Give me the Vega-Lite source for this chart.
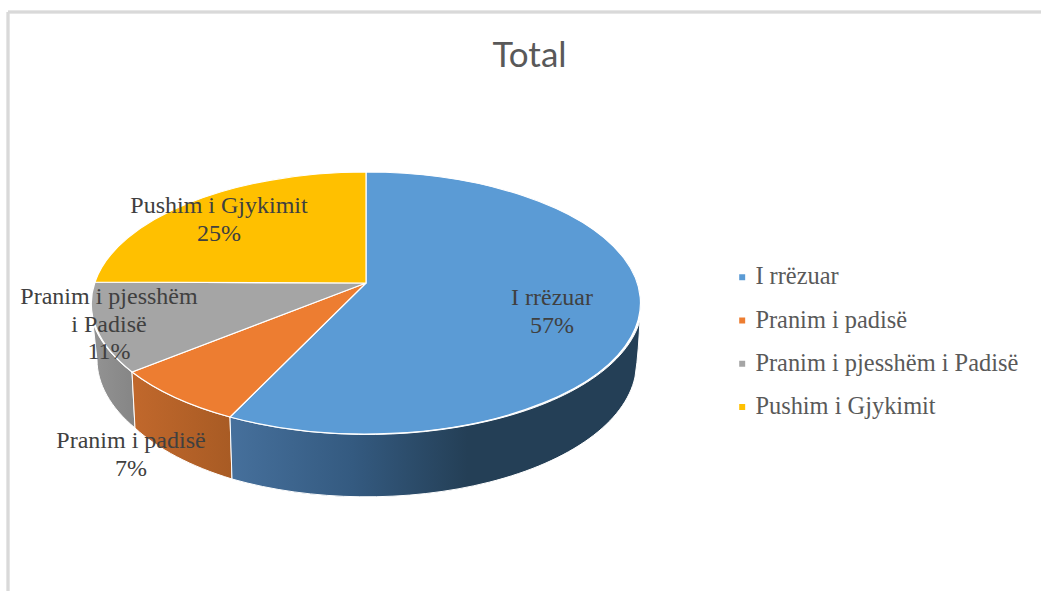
{
"$schema":"https://vega.github.io/schema/vega-lite/v6.json",
"width":1041,"height":516,
"autosize":{"type":"none"},
"padding":{"left":0,"top":75,"right":0,"bottom":0},
"background":"white",
"config":{"view":{"stroke":null}},
"title":{"text":"Total","font":"Lato","fontSize":35,"fontWeight":"normal","color":"#595959","anchor":"middle","dx":9,"offset":-91,"baseline":"alphabetic"},
"data":{"values":[
{"category":"I rrëzuar","value":57,"label":"I rrëzuar\n57%"},
{"category":"Pranim i padisë","value":7,"label":"Pranim i padisë\n7%"},
{"category":"Pranim i pjesshëm i Padisë","value":11,"label":"Pranim i pjesshëm\ni Padisë\n11%"},
{"category":"Pushim i Gjykimit","value":25,"label":"Pushim i Gjykimit\n25%"}
]},
"layer":[
{"mark":{"type":"rule","stroke":"#D9D9D9","strokeWidth":2.5},"encoding":{
 "x":{"datum":-358,"type":"quantitative","scale":{"domain":[-366,675]},"axis":null},
 "x2":{"datum":675},
 "y":{"datum":-291,"type":"quantitative","scale":{"domain":[-228,288],"reverse":true},"axis":null}}},
{"transform":[{"filter":"datum.value==11"}],
 "mark":{"type":"point","filled":true,"opacity":1,"size":4,"stroke":"white","strokeWidth":1,"shape":"M-234,69 A275,131 0 0 1 -273,20 L-269,57 A270,134 0 0 0 -231,125 Z","fill":{"gradient":"linear","x1":0,"y1":0,"x2":1,"y2":0,"stops":[{"offset":0,"color":"#939393"},{"offset":1,"color":"#858585"}]}},
 "encoding":{"x":{"datum":0,"type":"quantitative","scale":{"domain":[-366,675]},"axis":null},"y":{"datum":0,"type":"quantitative","scale":{"domain":[-228,288],"reverse":true},"axis":null}}},
{"transform":[{"filter":"datum.value==7"}],
 "mark":{"type":"point","filled":true,"opacity":1,"size":4,"stroke":"white","strokeWidth":1,"shape":"M-136,114 A275,131 0 0 1 -234,69 L-231,125 A270,134 0 0 0 -134,176 Z","fill":{"gradient":"linear","x1":0,"y1":0,"x2":1,"y2":0,"stops":[{"offset":0,"color":"#C1682C"},{"offset":1,"color":"#A85B24"}]}},
 "encoding":{"x":{"datum":0,"type":"quantitative","scale":{"domain":[-366,675]},"axis":null},"y":{"datum":0,"type":"quantitative","scale":{"domain":[-228,288],"reverse":true},"axis":null}}},
{"transform":[{"filter":"datum.value==57"}],
 "mark":{"type":"point","filled":true,"opacity":1,"size":4,"stroke":"white","strokeWidth":1,"shape":"M274,17 A275,131 0 0 1 -136,114 L-134,176 A270,134 0 0 0 269,74 C272,55 273,35 274,17 Z","fill":{"gradient":"linear","x1":0,"y1":0,"x2":1,"y2":0,"stops":[{"offset":0,"color":"#46709C"},{"offset":0.3,"color":"#345A80"},{"offset":0.58,"color":"#243F56"},{"offset":1,"color":"#243F56"}]}},
 "encoding":{"x":{"datum":0,"type":"quantitative","scale":{"domain":[-366,675]},"axis":null},"y":{"datum":0,"type":"quantitative","scale":{"domain":[-228,288],"reverse":true},"axis":null}}},
{"transform":[{"filter":"datum.value==57"}],
 "mark":{"type":"point","filled":true,"opacity":1,"size":4,"stroke":"white","strokeWidth":1.2,"shape":"M0,-20 L0,-131 A275,131 0 1 1 -136,114 Z"},
 "encoding":{
 "x":{"datum":0,"type":"quantitative","scale":{"domain":[-366,675]},"axis":null},
 "y":{"datum":0,"type":"quantitative","scale":{"domain":[-228,288],"reverse":true},"axis":null},
 "color":{"field":"category","type":"nominal","sort":null,
  "scale":{"domain":["I rrëzuar","Pranim i padisë","Pranim i pjesshëm i Padisë","Pushim i Gjykimit"],"range":["#5B9BD5","#ED7D31","#A5A5A5","#FFC000"]},
  "legend":{"title":null,"orient":"none","legendX":730,"legendY":190,"symbolType":"square","symbolSize":56,"labelFont":"Liberation Serif","labelFontSize":24.4,"labelColor":"#595959","labelLimit":320,"rowPadding":18.3,"labelOffset":1,
   "encode":{"symbols":{"update":{"shape":{"value":"square"},"size":{"value":56},"strokeWidth":{"value":0}}}}}}}},
{"transform":[{"filter":"datum.value==7"}],
 "mark":{"type":"point","filled":true,"opacity":1,"size":4,"stroke":"white","strokeWidth":1.2,"shape":"M0,-20 L-136,114 A275,131 0 0 1 -234,69 Z"},
 "encoding":{
 "x":{"datum":0,"type":"quantitative","scale":{"domain":[-366,675]},"axis":null},
 "y":{"datum":0,"type":"quantitative","scale":{"domain":[-228,288],"reverse":true},"axis":null},
 "color":{"field":"category","type":"nominal","sort":null}}},
{"transform":[{"filter":"datum.value==11"}],
 "mark":{"type":"point","filled":true,"opacity":1,"size":4,"stroke":"white","strokeWidth":1.2,"shape":"M0,-20 L-234,69 A275,131 0 0 1 -271,-21 Z"},
 "encoding":{
 "x":{"datum":0,"type":"quantitative","scale":{"domain":[-366,675]},"axis":null},
 "y":{"datum":0,"type":"quantitative","scale":{"domain":[-228,288],"reverse":true},"axis":null},
 "color":{"field":"category","type":"nominal","sort":null}}},
{"transform":[{"filter":"datum.value==25"}],
 "mark":{"type":"point","filled":true,"opacity":1,"size":4,"stroke":"white","strokeWidth":1.2,"shape":"M0,-20 L-271,-21 A275,131 0 0 1 0,-131 Z"},
 "encoding":{
 "x":{"datum":0,"type":"quantitative","scale":{"domain":[-366,675]},"axis":null},
 "y":{"datum":0,"type":"quantitative","scale":{"domain":[-228,288],"reverse":true},"axis":null},
 "color":{"field":"category","type":"nominal","sort":null}}},
{"transform":[{"filter":"datum.value==57"}],"mark":{"type":"text","font":"Liberation Serif","fontSize":24,"fill":"#404040","lineBreak":"\n","lineHeight":27.5,"align":"center","baseline":"middle"},
 "encoding":{"text":{"field":"label"},"x":{"datum":186,"type":"quantitative","scale":{"domain":[-366,675]},"axis":null},"y":{"datum":-5,"type":"quantitative","scale":{"domain":[-228,288],"reverse":true},"axis":null}}},
{"transform":[{"filter":"datum.value==7"}],"mark":{"type":"text","font":"Liberation Serif","fontSize":24,"fill":"#404040","lineBreak":"\n","lineHeight":27.5,"align":"center","baseline":"middle"},
 "encoding":{"text":{"field":"label"},"x":{"datum":-235,"type":"quantitative","scale":{"domain":[-366,675]},"axis":null},"y":{"datum":138,"type":"quantitative","scale":{"domain":[-228,288],"reverse":true},"axis":null}}},
{"transform":[{"filter":"datum.value==11"}],"mark":{"type":"text","font":"Liberation Serif","fontSize":24,"fill":"#404040","lineBreak":"\n","lineHeight":27.5,"align":"center","baseline":"middle"},
 "encoding":{"text":{"field":"label"},"x":{"datum":-257,"type":"quantitative","scale":{"domain":[-366,675]},"axis":null},"y":{"datum":-6,"type":"quantitative","scale":{"domain":[-228,288],"reverse":true},"axis":null}}},
{"transform":[{"filter":"datum.value==25"}],"mark":{"type":"text","font":"Liberation Serif","fontSize":24,"fill":"#404040","lineBreak":"\n","lineHeight":27.5,"align":"center","baseline":"middle"},
 "encoding":{"text":{"field":"label"},"x":{"datum":-147,"type":"quantitative","scale":{"domain":[-366,675]},"axis":null},"y":{"datum":-97,"type":"quantitative","scale":{"domain":[-228,288],"reverse":true},"axis":null}}},
{"mark":{"type":"rule","stroke":"#D9D9D9","strokeWidth":2.5},"encoding":{
 "x":{"datum":-358,"type":"quantitative","scale":{"domain":[-366,675]},"axis":null},
 "y":{"datum":-291,"type":"quantitative","scale":{"domain":[-228,288],"reverse":true},"axis":null},
 "y2":{"datum":288}}}
]
}
